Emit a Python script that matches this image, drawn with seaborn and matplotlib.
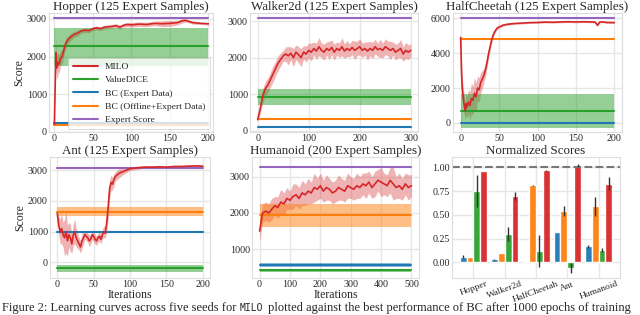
import numpy as np
import pandas as pd
import matplotlib
matplotlib.use("Agg")
import matplotlib.pyplot as plt
from matplotlib.lines import Line2D
from matplotlib.transforms import Affine2D
import seaborn as sns

# ---------------- data ----------------
methods = ["MILO", "ValueDICE", "BC (Expert Data)", "BC (Offline+Expert Data)", "Expert Score"]
colors = {"MILO": "#d62728", "ValueDICE": "#2ca02c", "BC (Expert Data)": "#1f77b4",
          "BC (Offline+Expert Data)": "#ff7f0e", "Expert Score": "#9467bd"}

hopper_iter = [0, 1, 2, 3, 4, 5, 6, 8, 10, 12, 14, 16, 18, 20, 25, 30, 35, 40, 45, 50, 55, 60, 65, 70, 75, 80,
               85, 90, 95, 100, 110, 120, 130, 140, 150, 160, 165, 170, 175, 180, 190, 200]
hopper_milo = [200, 1200, 2100, 1700, 1750, 1850, 1800, 1950, 2000, 2150, 2300, 2400, 2450, 2500, 2580, 2620,
               2680, 2700, 2690, 2740, 2760, 2740, 2780, 2790, 2800, 2820, 2780, 2830, 2850, 2840, 2860, 2850,
               2880, 2870, 2880, 2900, 2940, 2960, 2930, 2900, 2880, 2870]
hopper_spread = [0, 100, 400, 300, 300, 250, 250, 200, 200, 150, 150, 120, 100, 100, 80, 80, 60, 60, 60, 50,
                 50, 50, 50, 50, 50, 50, 50, 50, 60, 60, 60, 60, 60, 80, 80, 60, 60, 40, 40, 40, 30, 30]
# baseline: (mean, low, high)
hopper_base = {"ValueDICE": (2270, 1750, 2770), "BC (Expert Data)": (230, 210, 250),
               "BC (Offline+Expert Data)": (190, 150, 230), "Expert Score": (3010, 3010, 3010)}

walker_iter = [0, 5, 10, 15, 20, 25, 30, 35, 40, 45, 50, 55, 60, 65, 70, 75, 80, 85, 90, 95, 100, 105, 110,
               115, 120, 125, 130, 135, 140, 145, 150, 155, 160, 165, 170, 175, 180, 185, 190, 195, 200, 205,
               210, 215, 220, 225, 230, 235, 240, 245, 250, 255, 260, 265, 270, 275, 280, 285, 290, 295, 300]
walker_milo = [300, 600, 950, 1150, 1250, 1400, 1550, 1700, 1850, 1950, 2050, 2100, 2050, 2120, 2000, 2150,
               2080, 2000, 2150, 2100, 2200, 2150, 2250, 2180, 2300, 2200, 2150, 2250, 2200, 2280, 2150, 2250,
               2200, 2300, 2180, 2250, 2200, 2280, 2200, 2250, 2300, 2200, 2250, 2180, 2250, 2200, 2300, 2220,
               2250, 2200, 2300, 2250, 2200, 2250, 2150, 2200, 2250, 2100, 2200, 2150, 2200]
walker_spread = [50, 150, 200, 200, 200, 200, 220, 200, 200, 180, 150, 200, 250, 180, 250, 200, 220, 250, 180,
                 220, 200, 250, 180, 220, 250, 200, 220, 180, 250, 200, 220, 180, 200, 250, 200, 220, 180, 200,
                 250, 200, 220, 200, 180, 250, 200, 220, 200, 180, 250, 200, 220, 200, 250, 180, 220, 200, 250,
                 200, 220, 200, 180]
walker_base = {"ValueDICE": (920, 700, 1130), "BC (Expert Data)": (100, 85, 115),
               "BC (Offline+Expert Data)": (310, 295, 325), "Expert Score": (3090, 3090, 3090)}

cheetah_iter = [0, 1, 2, 3, 4, 5, 6, 7, 8, 10, 12, 14, 16, 18, 20, 22, 24, 26, 28, 30, 32, 34, 36, 38, 40, 42,
                44, 46, 48, 50, 55, 60, 70, 80, 90, 100, 110, 120, 130, 140, 150, 160, 170, 175, 178, 181, 185,
                190, 200]
cheetah_milo = [4900, 3000, 2000, 1600, 1200, 900, 700, 1100, 900, 1200, 1000, 1400, 1300, 1700, 1500, 2000,
                1900, 2300, 2500, 2700, 3000, 3400, 3900, 4300, 4700, 5000, 5200, 5350, 5450, 5500, 5600, 5650,
                5700, 5720, 5750, 5760, 5780, 5770, 5790, 5800, 5790, 5800, 5790, 5780, 5600, 5780, 5790, 5760,
                5750]
cheetah_spread = [50, 800, 700, 600, 600, 500, 500, 700, 600, 700, 800, 900, 800, 900, 800, 700, 700, 600, 500,
                  400, 400, 300, 300, 200, 200, 150, 100, 100, 80, 80, 60, 60, 50, 50, 50, 50, 50, 50, 50, 50,
                  50, 50, 50, 50, 80, 50, 50, 50, 50]
cheetah_base = {"ValueDICE": (700, -280, 1660), "BC (Expert Data)": (0, -20, 20),
                "BC (Offline+Expert Data)": (4830, 4800, 4860), "Expert Score": (6000, 6000, 6000)}

ant_iter = [0, 2, 4, 6, 8, 10, 12, 14, 16, 18, 20, 22, 24, 26, 28, 30, 32, 34, 36, 38, 40, 42, 44, 46, 48, 50,
            52, 54, 56, 58, 60, 62, 64, 66, 68, 70, 72, 74, 76, 78, 80, 85, 90, 95, 100, 110, 120, 130, 140, 150,
            160, 170, 180, 190, 200]
ant_milo = [1600, 1200, 1000, 1100, 900, 800, 1000, 700, 900, 800, 600, 900, 1000, 800, 700, 600, 500, 700, 800,
            900, 850, 800, 700, 750, 900, 850, 750, 700, 800, 850, 750, 900, 1000, 950, 1300, 1800, 2400, 2600,
            2550, 2700, 2800, 2900, 2950, 3000, 3050, 3080, 3100, 3100, 3110, 3100, 3120, 3120, 3130, 3140, 3130]
ant_spread = [50, 300, 400, 500, 400, 600, 700, 500, 400, 450, 300, 350, 400, 300, 250, 200, 200, 250, 200, 150,
              150, 150, 200, 150, 150, 200, 150, 150, 150, 150, 150, 150, 200, 150, 300, 400, 300, 250, 200, 200,
              150, 150, 100, 80, 60, 50, 40, 40, 40, 40, 40, 40, 40, 40, 40]
ant_base = {"ValueDICE": (-200, -330, -90), "BC (Expert Data)": (1000, 985, 1015),
            "BC (Offline+Expert Data)": (1650, 1500, 1810), "Expert Score": (3060, 3060, 3060)}

humanoid_iter = [0, 10, 20, 30, 40, 50, 60, 70, 80, 90, 100, 110, 120, 130, 140, 150, 160, 170, 180, 190, 200,
                 210, 220, 230, 240, 250, 260, 270, 280, 290, 300, 310, 320, 330, 340, 350, 360, 370, 380, 390,
                 400, 410, 420, 430, 440, 450, 460, 470, 480, 490, 500]
humanoid_milo = [1500, 2000, 2050, 2000, 2100, 2200, 2150, 2300, 2250, 2400, 2350, 2450, 2500, 2400, 2550, 2500,
                 2600, 2550, 2700, 2650, 2750, 2600, 2700, 2650, 2550, 2600, 2700, 2650, 2600, 2750, 2700, 2650,
                 2750, 2700, 2800, 2750, 2850, 2700, 2800, 2900, 2850, 2800, 2750, 2900, 2800, 2700, 2750, 2650,
                 2800, 2700, 2750]
humanoid_spread = [300, 250, 250, 250, 300, 250, 300, 350, 300, 300, 250, 350, 300, 300, 350, 300, 350, 300, 400,
                   300, 350, 300, 350, 300, 300, 300, 350, 300, 300, 350, 300, 300, 350, 300, 300, 350, 300, 300,
                   350, 300, 400, 300, 300, 350, 450, 300, 350, 300, 300, 350, 300]
humanoid_base = {"ValueDICE": (420, 370, 470), "BC (Expert Data)": (560, 500, 620),
                 "BC (Offline+Expert Data)": (1940, 1600, 2250), "Expert Score": (3270, 3270, 3270)}

# normalized scores
norm_envs = ["Hopper", "Walker2d", "HalfCheetah", "Ant", "Humanoid"]
norm_methods = ["BC (Expert Data)", "BC (Offline+Expert Data)", "ValueDICE", "MILO"]
norm_bc_expert = [0.06, 0.03, 0.0, 0.32, 0.17]
norm_bc_expert_err = [0.015, 0.01, 0.0, 0.0, 0.015]
norm_bc_offline = [0.06, 0.10, 0.81, 0.54, 0.59]
norm_bc_offline_err = [0.0, 0.0, 0.005, 0.05, 0.10]
norm_valuedice = [0.75, 0.30, 0.12, -0.06, 0.13]
norm_valuedice_err = [0.17, 0.07, 0.17, 0.055, 0.02]
norm_milo = [0.96, 0.70, 0.97, 1.02, 0.83]
norm_milo_err = [0.0, 0.04, 0.005, 0.02, 0.07]

caption_parts = [("Figure 2: Learning curves across five seeds for ", "serif"),
                 ("MILO", "mono"),
                 (" plotted against the best performance of BC after 1000 epochs of training", "serif")]

# ---------------- style ----------------
sns.set_theme(style="whitegrid")
plt.rcParams["font.family"] = ["Liberation Serif", "DejaVu Serif"]
plt.rcParams.update({
    "axes.edgecolor": "#dddddd", "grid.color": "#e6e6e6", "axes.linewidth": 0.8,
    "xtick.labelsize": 7.2, "ytick.labelsize": 7.2,
    "xtick.major.pad": 1.5, "ytick.major.pad": 1.5,
})

fig = plt.figure(figsize=(6.4, 3.15), dpi=100)


def pos(l, r, t, b):
    return [l / 640, (315 - b) / 315, (r - l) / 640, (b - t) / 315]


title_fs = 9.4
label_fs = 8.5


def env_panel(rect, title, it, milo, spread, base, xlim, ylim, xticks, yticks, ylabel=False, xlabel=False):
    ax = fig.add_axes(rect)
    it = np.asarray(it, float)
    milo = np.asarray(milo, float)
    spread = np.asarray(spread, float)
    x0, x1 = it[0], it[-1]
    ax.fill_between(it, milo - spread, milo + spread, color=colors["MILO"], alpha=0.35, lw=0, zorder=2)
    for name in ["ValueDICE", "BC (Expert Data)", "BC (Offline+Expert Data)", "Expert Score"]:
        m, lo, hi = base[name]
        if hi > lo:
            ax.fill_between([x0, x1], [lo, lo], [hi, hi], color=colors[name], alpha=0.5, lw=0, zorder=2)
        ax.plot([x0, x1], [m, m], color=colors[name], lw=1.5, zorder=3)
    sns.lineplot(x=it, y=milo, color=colors["MILO"], lw=1.2, ax=ax, zorder=4)
    ax.set_xlim(*xlim)
    ax.set_ylim(*ylim)
    ax.set_xticks(xticks)
    ax.set_yticks(yticks)
    ax.set_title(title, fontsize=title_fs, pad=2)
    ax.set_ylabel("Score" if ylabel else "", fontsize=label_fs, labelpad=1)
    ax.set_xlabel("Iterations" if xlabel else "", fontsize=label_fs, labelpad=0)
    ax.tick_params(length=0)
    return ax


ax_h = env_panel(pos(49, 213, 13, 132), "Hopper (125 Expert Samples)", hopper_iter, hopper_milo,
                 hopper_spread, hopper_base, (-7, 206), (0, 3155), [0, 50, 100, 150, 200],
                 [0, 1000, 2000, 3000], ylabel=True)
env_panel(pos(250, 418, 13, 132), "Walker2d (125 Expert Samples)", walker_iter, walker_milo, walker_spread,
          walker_base, (-15, 314), (-40, 3225), [0, 100, 200, 300], [0, 1000, 2000, 3000])
env_panel(pos(453, 622, 13, 132), "HalfCheetah (125 Expert Samples)", cheetah_iter, cheetah_milo,
          cheetah_spread, cheetah_base, (-10, 210), (-520, 6300), [0, 50, 100, 150, 200],
          [0, 2000, 4000, 6000])
env_panel(pos(50, 210, 157, 278), "Ant (125 Expert Samples)", ant_iter, ant_milo, ant_spread, ant_base,
          (-10, 210), (-510, 3430), [0, 50, 100, 150, 200], [0, 1000, 2000, 3000], ylabel=True, xlabel=True)
env_panel(pos(252, 419, 157, 278), "Humanoid (200 Expert Samples)", humanoid_iter, humanoid_milo,
          humanoid_spread, humanoid_base, (-25, 525), (210, 3540), [0, 100, 200, 300, 400, 500],
          [1000, 2000, 3000], xlabel=True)

handles = [Line2D([], [], color=colors[m], lw=1.5) for m in methods]
leg = ax_h.legend(handles, methods, loc="lower right", fontsize=6.8, frameon=True, framealpha=0.8,
                  edgecolor="#cccccc", borderaxespad=0.3, handlelength=2.6, labelspacing=0.5,
                  borderpad=0.5)
leg.get_frame().set_linewidth(0.6)

# normalized score bars
ax_n = fig.add_axes(pos(452, 620, 157, 278))
vals = {"BC (Expert Data)": (norm_bc_expert, norm_bc_expert_err),
        "BC (Offline+Expert Data)": (norm_bc_offline, norm_bc_offline_err),
        "ValueDICE": (norm_valuedice, norm_valuedice_err),
        "MILO": (norm_milo, norm_milo_err)}
rows = []
for m in norm_methods:
    for e, v, er in zip(norm_envs, vals[m][0], vals[m][1]):
        rows.append({"env": e, "method": m, "score": v, "err": er})
df = pd.DataFrame(rows)
sns.barplot(data=df, x="env", y="score", hue="method", hue_order=norm_methods, order=norm_envs,
            palette=[colors[m] for m in norm_methods], errorbar=None, width=0.88, ax=ax_n,
            legend=False, saturation=1, alpha=0.95)
for container, m in zip(ax_n.containers, norm_methods):
    errs = vals[m][1]
    for bar, er in zip(container, errs):
        if er > 0:
            xc = bar.get_x() + bar.get_width() / 2
            yv = bar.get_y() + bar.get_height()
            ax_n.errorbar(xc, yv, yerr=er, color="#333333", lw=1.0, capsize=0, zorder=5)
ax_n.axhline(1.0, color="#777777", ls="--", lw=1.5, zorder=1)
ax_n.set_ylim(-0.165, 1.11)
ax_n.set_yticks([0.0, 0.25, 0.5, 0.75, 1.0])
ax_n.set_yticklabels(["0.00", "0.25", "0.50", "0.75", "1.00"])
ax_n.set_title("Normalized Scores", fontsize=title_fs, pad=2)
ax_n.set_xlabel("")
ax_n.set_ylabel("")
ax_n.grid(True, axis="both")
ax_n.tick_params(length=0)
for lab in ax_n.get_xticklabels():
    lab.set_rotation(20)
    lab.set_fontsize(6.8)

# caption, with MILO in a monospace face
renderer = fig.canvas.get_renderer()
x_px = 2.0
for txt, kind in caption_parts:
    kw = dict(fontsize=9.0, va="baseline", ha="left")
    if kind == "mono":
        kw.update(family=["DejaVu Sans Mono"], fontsize=7.0)
    t = fig.text(x_px / 640, 4 / 315, txt, **kw)
    bb = t.get_window_extent(renderer=renderer)
    x_px = bb.x1 + (2 if kind == "mono" else 0)

fig.savefig("out.png", dpi=100)
